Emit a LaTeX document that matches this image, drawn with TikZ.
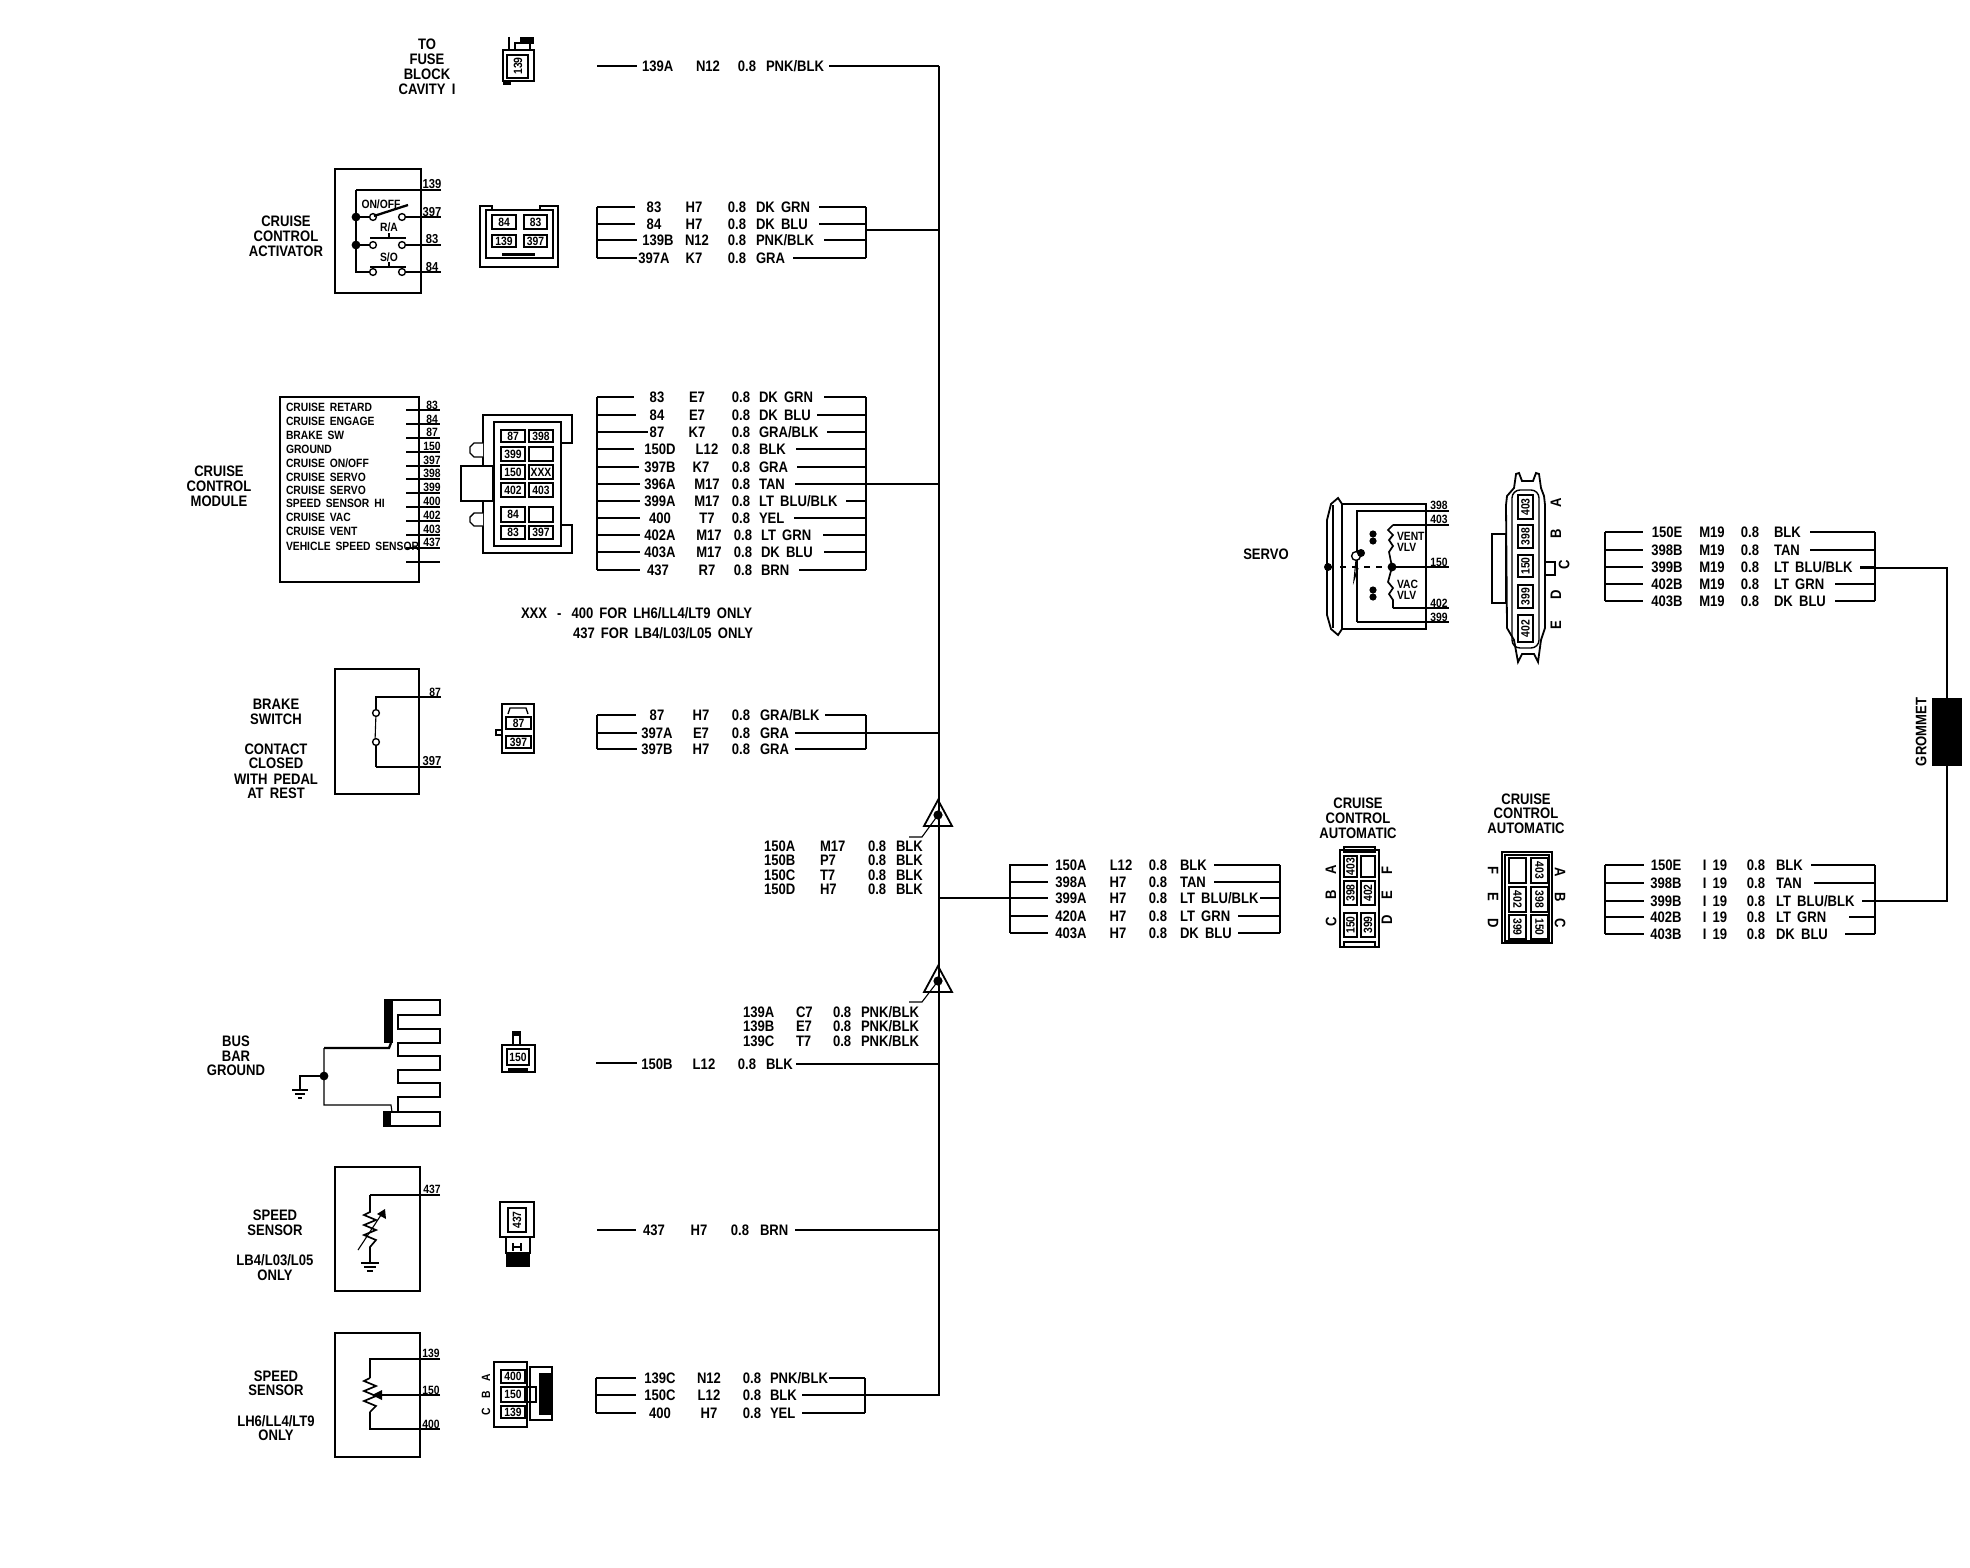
\documentclass[tikz,border=0pt]{standalone}
\usepackage{fontspec}
\setmainfont{Liberation Sans}
\newfontfamily\lbf[FakeStretch=0.86,WordSpace=1.7]{Liberation Sans Bold}
\newcommand{\fA}{\lbf\fontsize{7.6pt}{8pt}\selectfont}
\newcommand{\fB}{\lbf\fontsize{6.5pt}{7pt}\selectfont}
\newcommand{\fC}{\lbf\fontsize{6pt}{6.5pt}\selectfont}
\newcounter{tc}
\newcounter{wc}
\tikzset{
 wa/.style={line width=.55pt,line cap=butt},
 wb/.style={line width=1.15pt,line cap=butt},
 wc/.style={line width=1.35pt,line cap=butt},
 rz/.style={line width=.85pt,line join=miter},
 shp/.style={line width=.7pt},
 lbl/.style={inner sep=0pt,outer sep=0pt,font=\fA,text=black},
 sml/.style={inner sep=0pt,outer sep=0pt,font=\fB,text=black},
 tin/.style={inner sep=0pt,outer sep=0pt,font=\fC,text=black},
}
% centred label
\newcommand{\tx}[4][lbl]{\stepcounter{tc}\node[#1] (t\arabic{tc}) at (#2,#3) {#4};}
% left-anchored label
\newcommand{\tl}[4][lbl]{\stepcounter{tc}\node[#1,anchor=west] (t\arabic{tc}) at (#2,#3) {#4};}
% rotated label
\newcommand{\tr}[5][tin]{\stepcounter{tc}\node[#1,rotate=#5] (t\arabic{tc}) at (#2,#3) {#4};}
% wire between named coordinates: style,x1,x2,y
\newcommand{\hw}[4]{\stepcounter{wc}\coordinate (wa\arabic{wc}) at (#2,#4);\coordinate (wb\arabic{wc}) at (#3,#4);\draw[#1] (wa\arabic{wc}) -- (wb\arabic{wc});}
% harness row: y, bracket-L, left-end, style, right-start, bracket-R, style
\newcommand{\wrw}[7]{\hw{#4}{#2}{#3}{#1}\hw{#7}{#5}{#6}{#1}}
% text row: y, x1(c), t1, x2(c), t2, x3(c), x4(left), t4
\newcommand{\trw}[8]{\tx{#2}{#1}{#3}\tx{#4}{#1}{#5}\tx{#6}{#1}{0.8}\tl{#7}{#1}{#8}}
% cell
\newcommand{\cel}[6][0]{\draw[shp] (#2,#3) rectangle (#4,#5);\stepcounter{tc}\node[tin,rotate=#1] (t\arabic{tc}) at ({(#2+#4)/2},{(#3+#5)/2}) {#6};}
\newcommand{\gnds}[2]{\draw[wa] (#1-9,#2) -- (#1+9,#2); \draw[wa] (#1-6,#2+4) -- (#1+6,#2+4); \draw[wa] (#1-3,#2+8) -- (#1+3,#2+8);}
\begin{document}
\begin{tikzpicture}[x=.5pt,y=-.5pt]
\useasboundingbox (0,0) rectangle (1970,1568);
% ---------- bus
\coordinate (bustop) at (939,66);
\coordinate (busbot) at (939,1396);
\draw[wc] (bustop) -- (busbot);
\draw[wb] (bustop) -- (829,66);
% ---------- fuse
\tx{427}{44}{TO}\tx{427}{59}{FUSE}\tx{427}{74}{BLOCK}\tx{427}{89}{CAVITY I}
\draw[shp,line width=1pt] (503,50) rectangle (534,81);
\draw[shp] (509,37) -- (509,50);
\fill (520,37) rectangle (534,44);
\draw[shp] (515,43) rectangle (530,50);
\draw[shp] (507,55) rectangle (528,78);
\fill (503,80) rectangle (511,85);
\tr{518}{66}{139}{90}
\hw{wb}{597}{637}{66}
\tl{642}{66}{139A}\tx{708}{66}{N12}\tx{747}{66}{0.8}\tl{766}{66}{PNK/BLK}
% ---------- activator
\tx{286}{221}{CRUISE}\tx{286}{236}{CONTROL}\tx{286}{251}{ACTIVATOR}
\draw[shp,line width=.9pt] (335,169) rectangle (421,293);
\draw[wb] (441,190) -- (356,190);
\draw[wa] (356,190) -- (356,272) -- (373,272);
\hw{wa}{402}{441}{217}\hw{wa}{402}{441}{245}\hw{wa}{402}{441}{272}
\hw{wa}{356}{373}{217}\hw{wa}{356}{373}{245}
\foreach \q in {217,245,272}{\draw[shp,fill=white] (373,\q) circle (1.7pt);\draw[shp,fill=white] (402,\q) circle (1.7pt);}
\fill (356,217) circle (2.2pt);\fill (356,245) circle (2.2pt);
\draw[wb] (374,216) -- (408,205);
\draw[wb] (370,238) -- (406,238);\draw[wa] (389,238) -- (389,233);
\draw[wb] (370,267) -- (406,267);\draw[wa] (389,267) -- (389,262);
\tx[tin]{381}{204}{ON/OFF}\tx[tin]{389}{227}{R/A}\tx[tin]{389}{257}{S/O}
\tx[sml]{432}{184}{139}\tx[sml]{432}{212}{397}\tx[sml]{432}{239}{83}\tx[sml]{432}{267}{84}
% connector
\draw[shp,line width=1.1pt] (480,206) -- (492,206) -- (492,210) -- (540,210) -- (540,206) -- (558,206) -- (558,267) -- (480,267) -- cycle;
\draw[shp,line width=1pt] (486,210) rectangle (553,258);
\cel{492}{215}{516}{229}{84}\cel{524}{215}{547}{229}{83}
\cel{492}{235}{516}{247}{139}\cel{524}{235}{547}{247}{397}
\fill (502,253) rectangle (535,256);
\draw[wa] (597,207) -- (597,258);\draw[wa] (866,207) -- (866,258);
\wrw{207}{597}{635}{wb}{819}{866}{wb}
\wrw{224}{597}{635}{wa}{819}{866}{wa}
\wrw{240}{597}{637}{wa}{824}{866}{wb}
\wrw{258}{597}{637}{wb}{793}{866}{wa}
\coordinate (tr1) at (866,230);\draw[wb] (tr1) -- (tr1 -| bustop);
\trw{207}{654}{83}{694}{H7}{737}{756}{DK GRN}
\trw{224}{654}{84}{694}{H7}{737}{756}{DK BLU}
\trw{240}{658}{139B}{697}{N12}{737}{756}{PNK/BLK}
\trw{258}{654}{397A}{694}{K7}{737}{756}{GRA}
% ---------- module
\tx{219}{471}{CRUISE}\tx{219}{486}{CONTROL}\tx{219}{501}{MODULE}
\draw[shp,line width=.8pt] (280,397) rectangle (419,582);
\foreach \n/\y in {CRUISE RETARD/407,CRUISE ENGAGE/421,BRAKE SW/435,GROUND/449,{CRUISE ON/OFF}/463,CRUISE SERVO/477,CRUISE SERVO/490,SPEED SENSOR HI/503,CRUISE VAC/517,CRUISE VENT/531,VEHICLE SPEED SENSOR/546}{\tl[tin]{286}{\y}{\n}}
\foreach \y/\s in {410/wa,424/wb,438/wa,452/wa,466/wa,479/wa,493/wa,507/wa,521/wb,535/wa,548/wa,562/wb}{\hw{\s}{406}{440}{\y}}
\foreach \n/\y in {83/405,84/419,87/432,150/446,397/460,398/473,399/487,400/501,402/515,403/529,437/542}{\tx[tin]{432}{\y}{\n}}
% module connector
\draw[shp,line width=.9pt] (483,415) -- (572,415) -- (572,443) -- (561,443) -- (561,525) -- (572,525) -- (572,553) -- (483,553) -- cycle;
\draw[shp,line width=1pt] (494,422) rectangle (561,546);
\draw[shp,fill=white] (461,466) rectangle (493,501);
\draw[shp,fill=white] (483,443) -- (474,443) -- (470,447) -- (470,453) -- (474,457) -- (483,457);
\draw[shp,fill=white] (483,513) -- (474,513) -- (470,517) -- (470,522) -- (474,526) -- (483,526);
\cel{501}{430}{525}{442}{87}\cel{529}{430}{553}{442}{398}
\cel{501}{447}{525}{461}{399}\cel{529}{447}{553}{461}{}
\cel{501}{465}{525}{479}{150}\cel{529}{465}{553}{479}{XXX}
\cel{501}{483}{525}{497}{402}\cel{529}{483}{553}{497}{403}
\cel{501}{507}{525}{522}{84}\cel{529}{507}{553}{522}{}
\cel{501}{526}{525}{539}{83}\cel{529}{526}{553}{539}{397}
\draw[wa] (597,397) -- (597,570);\draw[wa] (866,397) -- (866,570);
\wrw{397}{597}{634}{wb}{824}{866}{wa}
\wrw{415}{597}{636}{wa}{817}{866}{wa}
\wrw{432}{597}{648}{wa}{827}{866}{wa}
\wrw{449}{597}{634}{wa}{796}{866}{wa}
\wrw{467}{597}{639}{wb}{797}{866}{wb}
\wrw{484}{597}{640}{wa}{795}{866}{wa}
\wrw{501}{597}{640}{wa}{846}{866}{wa}
\wrw{518}{597}{640}{wa}{794}{866}{wa}
\wrw{535}{597}{640}{wa}{823}{866}{wa}
\wrw{552}{597}{640}{wb}{824}{866}{wb}
\wrw{570}{597}{640}{wa}{799}{866}{wa}
\coordinate (tr2) at (866,484);\draw[wa] (tr2) -- (tr2 -| bustop);
\trw{397}{657}{83}{697}{E7}{741}{759}{DK GRN}
\trw{415}{657}{84}{697}{E7}{741}{759}{DK BLU}
\trw{432}{657}{87}{697}{K7}{741}{759}{GRA/BLK}
\trw{449}{660}{150D}{707}{L12}{741}{759}{BLK}
\trw{467}{660}{397B}{701}{K7}{741}{759}{GRA}
\trw{484}{660}{396A}{707}{M17}{741}{759}{TAN}
\trw{501}{660}{399A}{707}{M17}{741}{759}{LT BLU/BLK}
\trw{518}{660}{400}{707}{T7}{741}{759}{YEL}
\trw{535}{660}{402A}{709}{M17}{743}{761}{LT GRN}
\trw{552}{660}{403A}{709}{M17}{743}{761}{DK BLU}
\trw{570}{658}{437}{707}{R7}{743}{761}{BRN}
\tl[lbl]{521}{613}{XXX\hspace{5pt}-\hspace{5pt}400 FOR LH6/LL4/LT9 ONLY}
\tl[lbl]{573}{633}{437 FOR LB4/L03/L05 ONLY}
% ---------- brake
\tx{276}{704}{BRAKE}\tx{276}{719}{SWITCH}\tx{276}{749}{CONTACT}\tx{276}{763}{CLOSED}\tx{276}{779}{WITH PEDAL}\tx{276}{793}{AT REST}
\draw[shp,line width=.9pt] (335,669) rectangle (419,794);
\draw[wa] (441,697) -- (376,697) -- (376,713);
\draw[wb] (441,767) -- (376,767);\draw[wa] (376,767) -- (376,742);
\draw[wa] (376,713) -- (375,742);
\draw[shp,fill=white] (376,713) circle (1.7pt);\draw[shp,fill=white] (376,742) circle (1.7pt);
\tx[tin]{435}{692}{87}\tx[sml]{432}{761}{397}
\draw[shp,line width=.9pt] (502,704) rectangle (534,753);
\draw[shp] (496,730) rectangle (502,735);
\draw[shp] (508,714) -- (510,708) -- (526,708) -- (528,714);
\cel{506}{717}{531}{729}{87}
\cel{506}{736}{531}{748}{397}
\draw[wa] (597,715) -- (597,749);\draw[wa] (866,715) -- (866,749);
\wrw{715}{597}{636}{wa}{825}{866}{wa}
\wrw{733}{597}{637}{wa}{795}{866}{wa}
\wrw{749}{597}{637}{wa}{795}{866}{wa}
\coordinate (tr3) at (866,733);\draw[wb] (tr3) -- (tr3 -| bustop);
\trw{715}{657}{87}{701}{H7}{741}{760}{GRA/BLK}
\trw{733}{657}{397A}{701}{E7}{741}{760}{GRA}
\trw{749}{657}{397B}{701}{H7}{741}{760}{GRA}
% ---------- splices
\draw[shp,line width=.9pt] (938,800) -- (952,826) -- (924,826) -- cycle;
\fill (938,815) circle (2.3pt);
\draw[wa] (938,815) -- (922,837) -- (909,837);
\draw[shp,line width=.9pt] (938,966) -- (952,992) -- (924,992) -- cycle;
\fill (938,981) circle (2.3pt);
\draw[wa] (938,981) -- (922,1002) -- (909,1002);
\foreach \y/\a/\b in {846/150A/M17,860/150B/P7,875/150C/T7,889/150D/H7}{\tl{764}{\y}{\a}\tl{820}{\y}{\b}\tl{868}{\y}{0.8}\tl{896}{\y}{BLK}}
\foreach \y/\a/\b in {1012/139A/C7,1026/139B/E7,1041/139C/T7}{\tl{743}{\y}{\a}\tl{796}{\y}{\b}\tl{833}{\y}{0.8}\tl{861}{\y}{PNK/BLK}}
% ---------- automatic harness 1
\coordinate (tr4) at (1010,898);\draw[wb] (tr4) -- (tr4 -| bustop);
\draw[wa] (1010,864) -- (1010,933);\draw[wb] (1280,865) -- (1280,933);
\wrw{865}{1010}{1048}{wb}{1214}{1280}{wb}
\wrw{882}{1010}{1048}{wb}{1214}{1280}{wb}
\wrw{898}{1010}{1048}{wa}{1260}{1280}{wa}
\wrw{916}{1010}{1048}{wa}{1238}{1280}{wb}
\wrw{933}{1010}{1048}{wa}{1238}{1280}{wb}
\trw{865}{1071}{150A}{1121}{L12}{1158}{1180}{BLK}
\trw{882}{1071}{398A}{1118}{H7}{1158}{1180}{TAN}
\trw{898}{1071}{399A}{1118}{H7}{1158}{1180}{LT BLU/BLK}
\trw{916}{1071}{420A}{1118}{H7}{1158}{1180}{LT GRN}
\trw{933}{1071}{403A}{1118}{H7}{1158}{1180}{DK BLU}
% connector A
\tx{1358}{803}{CRUISE}\tx{1358}{818}{CONTROL}\tx{1358}{833}{AUTOMATIC}
\draw[shp,line width=1pt] (1340,850) rectangle (1379,947);
\draw[shp] (1344,847) rectangle (1375,852);
\draw[shp] (1344,942) rectangle (1375,947);
\cel[90]{1344}{856}{1357}{877}{403}\cel{1361}{856}{1375}{877}{}
\cel[90]{1344}{881}{1357}{905}{398}\cel[90]{1361}{881}{1375}{905}{402}
\cel[90]{1344}{913}{1357}{937}{150}\cel[90]{1361}{913}{1375}{937}{399}
\tr[lbl]{1331}{870}{A}{90}\tr[lbl]{1331}{895}{B}{90}\tr[lbl]{1331}{922}{C}{90}
\tr[lbl]{1387}{870}{F}{90}\tr[lbl]{1387}{895}{E}{90}\tr[lbl]{1387}{920}{D}{90}
% connector B
\tx{1526}{799}{CRUISE}\tx{1526}{813}{CONTROL}\tx{1526}{828}{AUTOMATIC}
\draw[shp,line width=1pt] (1502,852) rectangle (1552,943);
\draw[shp] (1505,855) rectangle (1549,941);
\cel{1509}{858}{1526}{883}{}\cel[-90]{1531}{858}{1548}{883}{403}
\cel[-90]{1509}{887}{1526}{912}{402}\cel[-90]{1531}{887}{1548}{912}{398}
\cel[-90]{1509}{915}{1526}{939}{399}\cel[-90]{1531}{915}{1548}{939}{150}
\tr[lbl]{1493}{870}{F}{-90}\tr[lbl]{1493}{897}{E}{-90}\tr[lbl]{1493}{923}{D}{-90}
\tr[lbl]{1560}{872}{A}{-90}\tr[lbl]{1560}{897}{B}{-90}\tr[lbl]{1560}{923}{C}{-90}
% harness lower right
\draw[wa] (1605,865) -- (1605,934);\draw[wa] (1875,865) -- (1875,934);
\wrw{865}{1605}{1644}{wa}{1811}{1875}{wa}
\wrw{883}{1605}{1644}{wa}{1814}{1875}{wa}
\wrw{901}{1605}{1644}{wa}{1862}{1875}{wa}
\wrw{917}{1605}{1644}{wa}{1849}{1875}{wa}
\wrw{934}{1605}{1644}{wa}{1845}{1875}{wa}
\trw{865}{1666}{150E}{1715}{I 19}{1756}{1776}{BLK}
\trw{883}{1666}{398B}{1715}{I 19}{1756}{1776}{TAN}
\trw{901}{1666}{399B}{1715}{I 19}{1756}{1776}{LT BLU/BLK}
\trw{917}{1666}{402B}{1715}{I 19}{1756}{1776}{LT GRN}
\trw{934}{1666}{403B}{1715}{I 19}{1756}{1776}{DK BLU}
% ---------- servo harness
\draw[wb] (1605,532) -- (1605,601);\draw[wa] (1875,532) -- (1875,601);
\wrw{532}{1605}{1643}{wa}{1810}{1875}{wa}
\wrw{550}{1605}{1643}{wa}{1810}{1875}{wa}
\wrw{567}{1605}{1643}{wa}{1860}{1875}{wb}
\wrw{584}{1605}{1643}{wb}{1835}{1875}{wa}
\wrw{601}{1605}{1643}{wa}{1835}{1875}{wa}
\trw{532}{1667}{150E}{1712}{M19}{1750}{1774}{BLK}
\trw{550}{1667}{398B}{1712}{M19}{1750}{1774}{TAN}
\trw{567}{1667}{399B}{1712}{M19}{1750}{1774}{LT BLU/BLK}
\trw{584}{1667}{402B}{1712}{M19}{1750}{1774}{LT GRN}
\trw{601}{1667}{403B}{1712}{M19}{1750}{1774}{DK BLU}
% grommet and link
\node[draw=none,fill=black,minimum width=15pt,minimum height=34pt,inner sep=0pt] (grom) at (1947,732) {};
\tr[lbl]{1921}{732}{GROMMET}{90}
\coordinate (gt) at (1947,568);\coordinate (gb) at (1947,901);
\coordinate (gl1) at (1860,568);\coordinate (gl2) at (1862,901);
\draw[wb] (gl1) -- (gt) -- (gt |- grom.north);
\draw[wb] (gl2) -- (gb) -- (gb |- grom.south);
% ---------- servo
\tx[lbl]{1266}{554}{SERVO}
\draw[shp,line width=.9pt] (1342,504) -- (1338,498) -- (1331,504) -- (1327,520) -- (1327,615) -- (1331,629) -- (1338,635) -- (1342,629) -- cycle;
\draw[wb] (1342,504) -- (1426,504) -- (1426,629) -- (1342,629);
\draw[wa] (1333,505) -- (1333,628);
\draw[wa] (1449,511) -- (1357,511) -- (1357,622);
\draw[wb] (1357,622) -- (1449,622);
\draw[wb] (1449,525) -- (1393,525);
\draw[rz] (1393,525) -- (1388,530) -- (1393,535) -- (1389,540) -- (1393,546) -- (1389,552) -- (1392,567) -- (1388,582) -- (1393,588) -- (1389,594) -- (1393,600) -- (1393,608);
\draw[wb] (1393,608) -- (1449,608);
\draw[wb] (1392,567) -- (1449,567);
\draw[wa,dashed] (1328,567) -- (1392,567);
\fill (1328,567) circle (2pt);\fill (1392,567) circle (2.2pt);
\draw[shp,fill=white] (1356,556) circle (2.2pt);
\fill (1361,553) circle (2pt);
\draw[wa] (1356,560) -- (1354,580) -- (1358,568);
\fill (1373,534) circle (1.8pt);\fill (1373,541) circle (1.8pt);
\fill (1373,590) circle (1.8pt);\fill (1373,597) circle (1.8pt);
\tl[tin]{1397}{536}{VENT}\tl[tin]{1397}{547}{VLV}\tl[tin]{1397}{584}{VAC}\tl[tin]{1397}{595}{VLV}
\tx[tin]{1439}{505}{398}\tx[tin]{1439}{519}{403}\tx[tin]{1439}{562}{150}\tx[tin]{1439}{603}{402}\tx[tin]{1439}{617}{399}
% servo connector
\draw[shp,line width=.9pt] (1506,505) -- (1507,496) -- (1514,488) -- (1516,474) -- (1519,473) -- (1522,481) -- (1533,481) -- (1536,473) -- (1539,474) -- (1541,488) -- (1544,496) -- (1545,505) -- (1545,628) -- (1541,640) -- (1538,662) -- (1534,654) -- (1522,654) -- (1518,662) -- (1514,640) -- (1507,628) -- cycle;
\draw[shp,rounded corners=4pt] (1512,490) rectangle (1539,648);
\draw[shp] (1492,534) rectangle (1506,603);
\draw[shp] (1545,562) rectangle (1555,575);
\cel[90]{1518}{495}{1533}{519}{403}
\cel[90]{1518}{525}{1533}{548}{398}
\cel[90]{1518}{555}{1533}{577}{150}
\cel[90]{1518}{585}{1533}{608}{399}
\cel[90]{1518}{615}{1533}{642}{402}
\tr[lbl]{1556}{503}{A}{90}\tr[lbl]{1556}{534}{B}{90}\tr[lbl]{1564}{565}{C}{90}\tr[lbl]{1556}{595}{D}{90}\tr[lbl]{1556}{625}{E}{90}
% ---------- bus bar
\tx{236}{1041}{BUS}\tx{236}{1056}{BAR}\tx{236}{1070}{GROUND}
\draw[shp,line width=.9pt] (384,1000) -- (440,1000) -- (440,1015) -- (398,1015) -- (398,1029) -- (440,1029) -- (440,1043) -- (398,1043) -- (398,1056) -- (440,1056) -- (440,1070) -- (398,1070) -- (398,1083) -- (440,1083) -- (440,1097) -- (398,1097) -- (398,1112) -- (440,1112) -- (440,1126) -- (384,1126) -- (384,1112) -- (398,1112);
\fill (384,1000) rectangle (393,1043);
\fill (384,1112) rectangle (391,1126);
\draw[wb] (391,1043) -- (389,1048) -- (324,1048);
\draw[wa] (324,1048) -- (324,1105) -- (391,1105) -- (392,1112);
\fill (324,1076) circle (2.2pt);
\draw[wa] (324,1076) -- (300,1076) -- (300,1090);
\draw[wb] (292,1090) -- (308,1090);\draw[wb] (295,1094) -- (305,1094);\draw[wb] (298,1098) -- (302,1098);
\draw[shp,line width=.9pt] (502,1045) rectangle (535,1072);
\draw[shp] (513,1032) rectangle (520,1045);
\fill (514,1032) rectangle (519,1036);
\cel{507}{1049}{529}{1065}{150}
\fill (508,1068) rectangle (528,1071);
\hw{wa}{596}{637}{1063}
\tx{657}{1064}{150B}\tx{704}{1064}{L12}\tx{747}{1064}{0.8}\tl{766}{1064}{BLK}
\coordinate (b150) at (796,1064);\draw[wb] (b150) -- (b150 -| bustop);
% ---------- speed sensor 1
\tx{275}{1215}{SPEED}\tx{275}{1230}{SENSOR}\tx{275}{1260}{LB4/L03/L05}\tx{275}{1275}{ONLY}
\draw[shp,line width=.9pt] (335,1167) rectangle (420,1291);
\draw[wb] (440,1195) -- (370,1195);
\draw[rz] (370,1195) -- (370,1212) -- (364,1215) -- (376,1220) -- (364,1225) -- (376,1230) -- (364,1235) -- (376,1240) -- (370,1247) -- (370,1263);
\gnds{370}{1263}
\draw[wa] (358,1250) -- (381,1215);
\fill (385,1209) -- (386,1219) -- (377,1214) -- cycle;
\tx[tin]{432}{1189}{437}
\draw[shp,line width=1.1pt] (500,1202) rectangle (534,1237);
\draw[shp] (508,1208) rectangle (526,1232);
\tr{517}{1220}{437}{90}
\draw[shp] (506,1237) rectangle (530,1253);
\fill (506,1253) rectangle (530,1267);
\draw[shp] (513,1243) -- (513,1251);\draw[shp] (521,1243) -- (521,1251);\draw[shp] (513,1247) -- (521,1247);
\hw{wa}{597}{636}{1230}
\tx{654}{1230}{437}\tx{699}{1230}{H7}\tx{740}{1230}{0.8}\tl{760}{1230}{BRN}
\coordinate (b437) at (795,1230);\draw[wb] (b437) -- (b437 -| bustop);
% ---------- speed sensor 2
\tx{276}{1376}{SPEED}\tx{276}{1390}{SENSOR}\tx{276}{1421}{LH6/LL4/LT9}\tx{276}{1435}{ONLY}
\draw[shp,line width=.9pt] (335,1333) rectangle (420,1457);
\draw[wa] (440,1359) -- (370,1359) -- (370,1378);
\draw[rz] (370,1378) -- (364,1381) -- (376,1386) -- (364,1391) -- (376,1396) -- (364,1401) -- (376,1406) -- (370,1412);
\draw[wa] (370,1412) -- (370,1429) -- (440,1429);
\draw[wb] (440,1395) -- (378,1395);
\fill (372,1395) -- (382,1390) -- (382,1400) -- cycle;
\tx[tin]{431}{1353}{139}\tx[tin]{431}{1390}{150}\tx[tin]{431}{1424}{400}
\draw[shp,line width=.9pt] (494,1362) rectangle (527,1427);
\draw[shp] (530,1367) rectangle (552,1420);
\fill (539,1373) rectangle (552,1415);
\draw[shp] (527,1387) rectangle (536,1402);
\cel{501}{1370}{525}{1383}{400}\cel{501}{1387}{525}{1402}{150}\cel{501}{1406}{525}{1418}{139}
\tr[tin]{486}{1378}{A}{90}\tr[tin]{486}{1395}{B}{90}\tr[tin]{486}{1412}{C}{90}
\draw[wa] (596,1378) -- (596,1413);\draw[wa] (865,1378) -- (865,1413);
\wrw{1378}{596}{636}{wa}{829}{865}{wa}
\wrw{1395}{596}{636}{wa}{802}{865}{wb}
\wrw{1413}{596}{636}{wa}{802}{865}{wa}
\coordinate (tr5) at (865,1395);\draw[wb] (tr5) -- (tr5 -| bustop);
\trw{1378}{660}{139C}{709}{N12}{752}{770}{PNK/BLK}
\trw{1395}{660}{150C}{709}{L12}{752}{770}{BLK}
\trw{1413}{660}{400}{709}{H7}{752}{770}{YEL}
\end{tikzpicture}
\end{document}
